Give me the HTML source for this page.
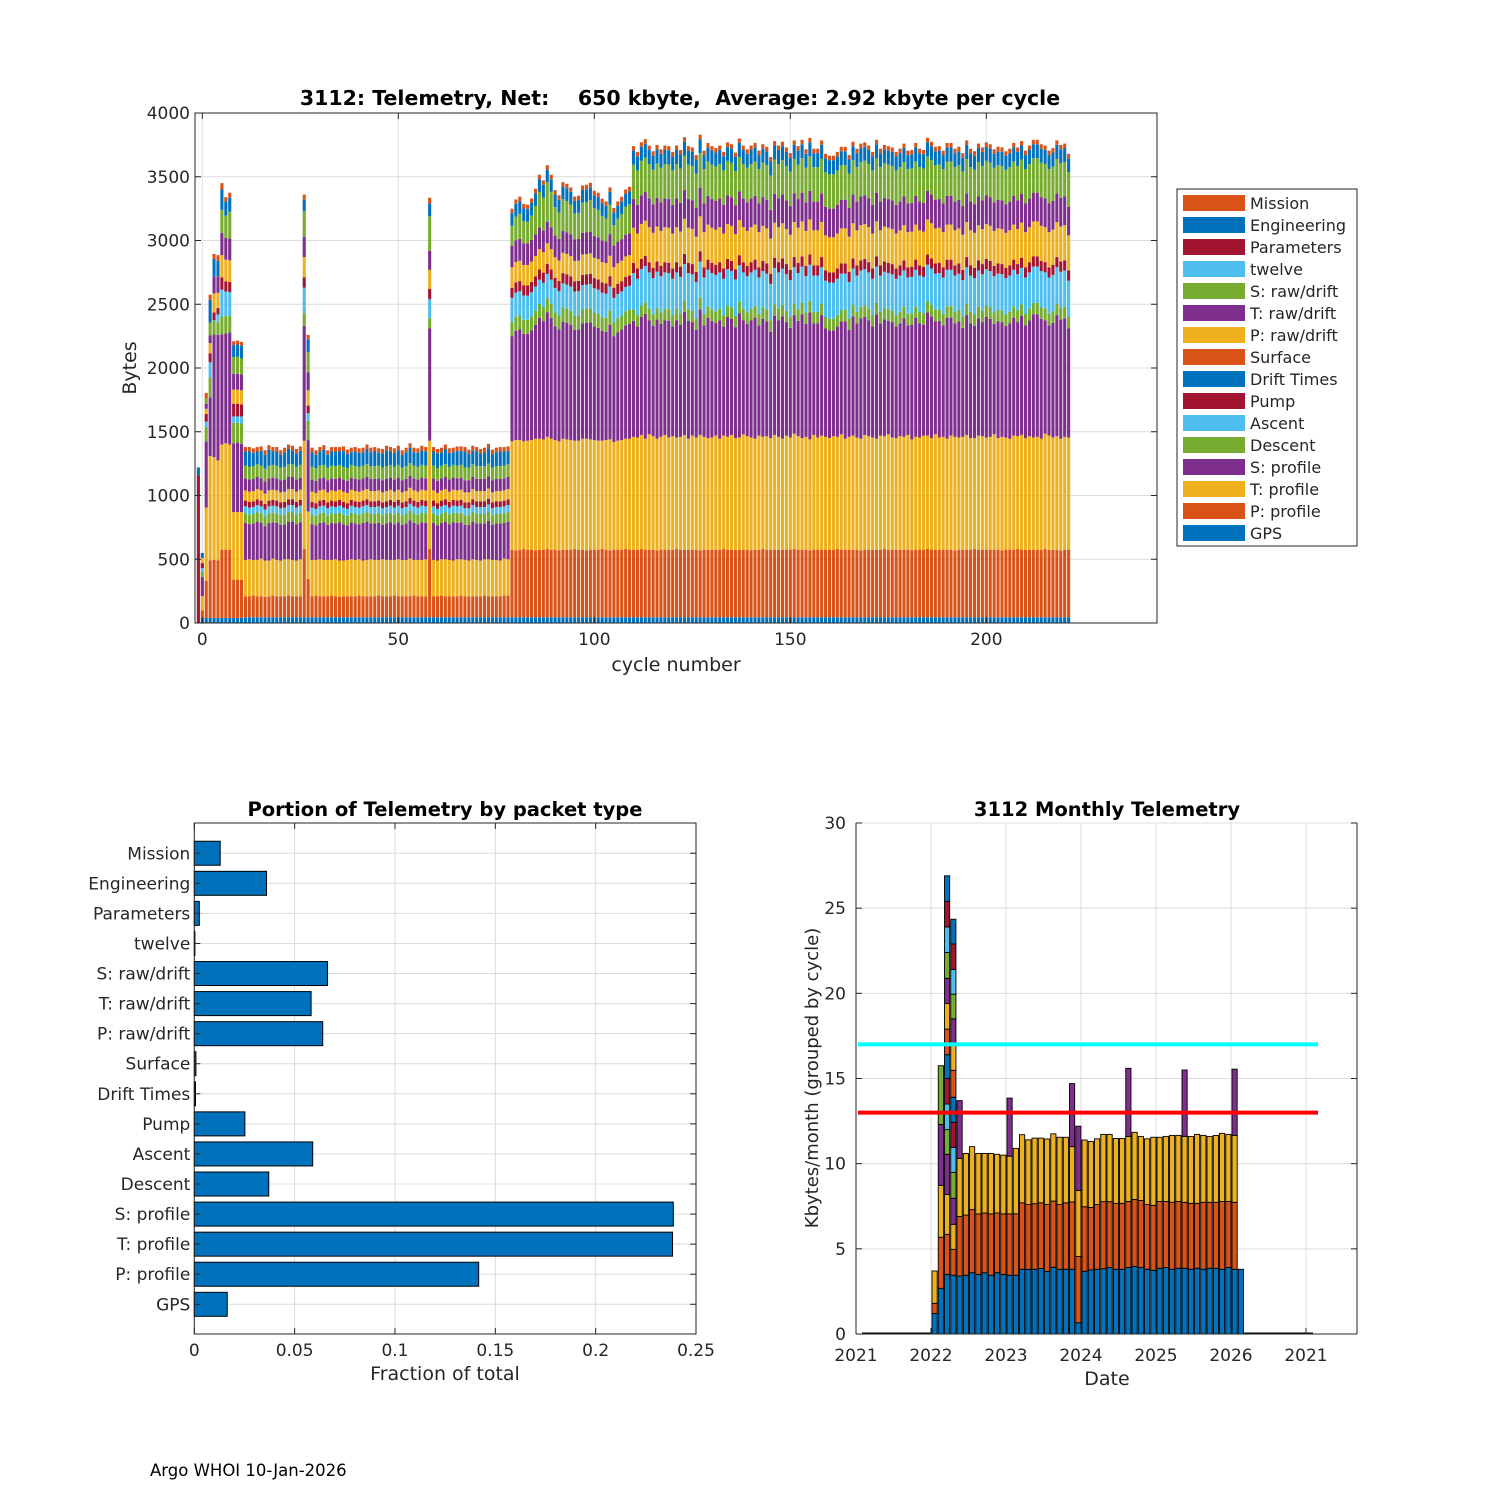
<!DOCTYPE html>
<html><head><meta charset="utf-8"><title>3112 Telemetry</title>
<style>
html,body{margin:0;padding:0;background:#fff;}
svg{display:block;font-family:"DejaVu Sans","Liberation Sans",sans-serif;}
</style></head>
<body>
<svg id="fig" width="1500" height="1500" viewBox="0 0 1500 1500" xmlns="http://www.w3.org/2000/svg">
<rect x="0" y="0" width="1500" height="1500" fill="#fff"/>
<g id="top"></g>
<g id="bl"></g>
<g id="br"></g>
<text x="150" y="1476" font-size="16.5" fill="#000">Argo WHOI 10-Jan-2026</text>
</svg>
<script>
// ---------------- top chart data (bytes per cycle, first cycle = -1) ----------------
const firstCycle = -1;
const seriesNames = ['GPS','P: profile','T: profile','S: profile','Descent','Ascent','Pump','Drift Times','Surface','P: raw/drift','T: raw/drift','S: raw/drift','twelve','Parameters','Engineering','Mission'];
const seriesColors = ['#0072BD','#D95319','#EDB120','#7E2F8E','#77AC30','#4DBEEE','#A2142F','#0072BD','#D95319','#EDB120','#7E2F8E','#77AC30','#4DBEEE','#A2142F','#0072BD','#D95319'];
const gps = [0,40,40,40,40,40,40,40,40,40,40,40,
45,45,45,45,45,45,45,45,45,45,45,45,45,45,45,45,45,45,45,45,
45,45,45,45,45,45,45,45,45,45,45,45,45,45,45,45,45,45,45,45,
45,45,45,45,45,45,45,45,45,45,45,45,45,45,45,45,45,45,45,45,
45,45,45,45,45,45,45,45,45,45,45,45,45,45,45,45,45,45,45,45,
45,45,45,45,45,45,45,45,45,45,45,45,45,45,45,45,45,45,45,45,
45,45,45,45,45,45,45,45,45,45,45,45,45,45,45,45,45,45,45,45,
45,45,45,45,45,45,45,45,45,45,45,45,45,45,45,45,45,45,45,45,
45,45,45,45,45,45,45,45,45,45,45,45,45,45,45,45,45,45,45,45,
45,45,45,45,45,45,45,45,45,45,45,45,45,45,45,45,45,45,45,45,
45,45,45,45,45,45,45,45,45,45,45,45,45,45,45,45,45,45,45,45,
45,45,45,45,45,45,45,45,45,45,45];
const pProfile = [0,60,290,450,455,450,535,535,535,300,300,300,
165,165,170,165,165,160,165,170,165,165,165,170,165,165,165,
535,300,
165,170,165,165,165,170,165,160,165,165,165,165,170,165,165,165,165,170,165,165,165,170,165,165,165,165,170,165,165,165,
535,
165,165,170,165,165,165,165,170,165,165,165,165,165,170,165,165,165,165,170,170,
530,525,530,535,530,530,525,530,530,535,530,530,525,530,530,530,535,530,530,525,530,530,530,535,530,525,530,530,530,535,530,
530,530,535,530,530,530,525,530,530,530,530,535,530,530,530,530,530,525,530,530,
530,530,530,535,530,530,530,530,530,530,525,530,530,535,530,530,530,530,530,530,
530,535,530,530,530,525,530,530,530,530,530,530,535,530,530,530,530,530,525,530,
530,530,530,530,535,530,530,530,530,530,530,525,530,530,530,535,530,530,530,530,
530,530,525,530,530,530,530,535,530,530,530,530,530,530,525,530,530,530,535,530,
530,530,530,530,530,535,530,530,530,525,530,530];
const tProfile = [0,110,575,820,805,785,825,835,825,530,530,530,
285,290,280,285,295,285,280,290,285,280,290,285,285,280,290,
850,530,
285,280,290,285,285,280,290,285,280,285,290,285,285,280,285,290,285,280,290,285,285,280,290,285,285,295,280,285,285,290,
850,
285,280,285,290,285,280,290,285,285,280,290,285,280,285,290,285,285,280,290,285,
850,865,860,845,855,860,875,870,865,880,870,860,855,870,865,860,850,855,870,875,865,860,855,850,860,870,845,855,860,865,870,
885,880,895,870,905,890,875,885,900,880,
890,875,885,900,870,895,880,905,885,875,
880,895,870,890,885,900,875,880,905,890,
885,870,895,880,890,875,900,885,870,895,
880,905,890,875,885,870,900,880,895,885,
875,890,880,905,870,885,895,880,875,900,
890,880,870,895,885,905,880,875,890,885,
900,870,885,880,895,890,875,905,880,885,
870,895,890,880,885,900,875,870,895,890,
880,885,905,875,890,880,870,895,885,900,
875,890,880,885,870,905,895,880,890,875,
885,880];
const sProfile = [0,150,520,460,965,985,865,860,880,540,545,535,
290,275,285,300,280,270,295,285,290,280,275,295,300,285,290,
900,560,
280,270,285,295,275,290,280,300,285,270,290,285,275,295,300,280,285,290,270,285,295,280,290,275,285,300,290,280,295,285,
880,
290,275,285,295,280,300,285,290,275,280,295,285,290,280,300,275,285,290,280,295,
825,856,867,843,838,860,893,948,928,978,948,893,877,919,915,903,870,873,906,908,919,890,885,861,848,900,830,851,866,890,900,
910,870,925,980,895,865,935,885,900,915,
860,920,880,965,925,890,845,985,875,945,
915,885,930,855,940,910,870,975,895,880,
920,950,865,925,900,835,935,915,960,890,
860,930,905,970,885,995,875,895,945,850,
845,830,865,885,920,840,935,895,945,925,
910,870,975,880,915,890,905,875,885,930,
860,900,935,895,870,965,955,885,915,875,
950,925,890,910,855,940,900,880,920,895,
945,925,865,915,900,875,905,925,895,935,
885,910,965,960,940,890,865,900,950,935,
930,855];
const descent = [0,40,110,155,110,100,135,140,125,160,155,160,
75,75,75,75,75,75,75,75,75,75,75,75,75,75,75,
100,150,
75,75,75,75,75,75,75,75,75,75,75,75,75,75,75,75,75,75,75,75,75,75,75,75,75,75,75,75,75,75,
80,
75,75,75,75,75,75,75,75,75,75,75,75,75,75,75,75,75,75,75,75,
110,110,110,110,110,110,110,110,110,110,110,110,110,110,110,110,110,110,110,110,110,110,110,110,110,110,110,110,110,110,110,
90,90,90,90,90,90,90,90,90,90,90,90,90,90,90,90,90,90,90,90,
90,90,90,90,90,90,90,90,90,90,90,90,90,90,90,90,90,90,90,90,
90,90,90,90,90,90,90,90,90,90,90,90,90,90,90,90,90,90,90,90,
90,90,90,90,90,90,90,90,90,90,90,90,90,90,90,90,90,90,90,90,
90,90,90,90,90,90,90,90,90,90,90,90,90,90,90,90,90,90,90,90,
90,90,90,90,90,90,90,90,90,90,90,90];
const ascent = [0,30,45,120,0,60,215,190,190,50,50,55,
55,55,55,55,55,55,55,55,55,55,55,55,55,55,55,
200,60,
55,55,55,55,55,55,55,55,55,55,55,55,55,55,55,55,55,55,55,55,55,55,55,55,55,55,55,55,55,55,
150,
55,55,55,55,55,55,55,55,55,55,55,55,55,55,55,55,55,55,55,55,
190,190,190,190,190,190,190,190,190,190,190,190,190,190,190,190,190,190,190,190,190,190,190,190,190,190,190,190,190,190,190,
285,285,285,285,285,285,285,285,285,285,285,285,285,285,285,285,285,285,285,285,
285,285,285,285,285,285,285,285,285,285,285,285,285,285,285,285,285,285,285,285,
285,285,285,285,285,285,285,285,285,285,285,285,285,285,285,285,285,285,285,285,
285,285,285,285,285,285,285,285,285,285,285,285,285,285,285,285,285,285,285,285,
285,285,285,285,285,285,285,285,285,285,285,285,285,285,285,285,285,285,285,285,
285,285,285,285,285,285,285,285,285,285,285,285];
const pump = [1160,40,60,70,60,50,95,80,80,100,100,95,
45,45,45,45,45,45,45,45,45,45,45,45,45,45,45,
80,60,
45,45,45,45,45,45,45,45,45,45,45,45,45,45,45,45,45,45,45,45,45,45,45,45,45,45,45,45,45,45,
80,
45,45,45,45,45,45,45,45,45,45,45,45,45,45,45,45,45,45,45,45,
80,80,80,80,80,80,80,80,80,80,80,80,80,80,80,80,80,80,80,80,80,80,80,80,80,80,80,80,80,80,80,
80,80,80,80,80,80,80,80,80,80,80,80,80,80,80,80,80,80,80,80,
80,80,80,80,80,80,80,80,80,80,80,80,80,80,80,80,80,80,80,80,
80,80,80,80,80,80,80,80,80,80,80,80,80,80,80,80,80,80,80,80,
80,80,80,80,80,80,80,80,80,80,80,80,80,80,80,80,80,80,80,80,
80,80,80,80,80,80,80,80,80,80,80,80,80,80,80,80,80,80,80,80,
80,80,80,80,80,80,80,80,80,80,80,80];
const driftTimes = [0,0,0,0,0,0,0,0,0,0,0,0,0,0,0,0,0,0,0,0,
0,0,0,0,0,0,0,0,0,0,0,0,0,0,0,0,0,0,0,0,0,0,0,0,0,0,0,0,0,0,0,0,0,0,0,0,0,0,0,0,
0,0,0,0,0,0,0,0,0,0,0,0,0,0,0,0,0,0,0,0,0,0,0,0,0,0,0,0,0,0,0,0,0,0,0,0,0,0,0,0,
0,0,0,0,0,0,0,0,0,0,0,0,0,0,0,0,0,0,0,0,0,0,0,0,0,0,0,0,0,0,0,0,0,0,0,0,0,0,0,0,
0,0,0,0,0,0,0,0,0,0,0,0,0,0,0,0,0,0,0,0,0,0,0,0,0,0,0,0,0,0,0,0,0,0,0,0,0,0,0,0,
0,0,0,0,0,0,0,0,0,0,0,0,0,0,0,0,0,0,0,0,0,0,0];
const surface = [0,0,0,0,0,0,0,0,0,0,0,0,0,0,0,0,0,0,0,0,
0,0,0,0,0,0,0,0,0,0,0,0,0,0,0,0,0,0,0,0,0,0,0,0,0,0,0,0,0,0,0,0,0,0,0,0,0,0,0,0,
0,0,0,0,0,0,0,0,0,0,0,0,0,0,0,0,0,0,0,0,0,0,0,0,0,0,0,0,0,0,0,0,0,0,0,0,0,0,0,0,
0,0,0,0,0,0,0,0,0,0,0,0,0,0,0,0,0,0,0,0,0,0,0,0,0,0,0,0,0,0,0,0,0,0,0,0,0,0,0,0,
0,0,0,0,0,0,0,0,0,0,0,0,0,0,0,0,0,0,0,0,0,0,0,0,0,0,0,0,0,0,0,0,0,0,0,0,0,0,0,0,
0,0,0,0,0,0,0,0,0,0,0,0,0,0,0,0,0,0,0,0,0,0,0];
const pRaw = [0,40,40,80,150,120,175,170,170,110,110,110,
80,80,80,80,80,80,80,80,80,80,80,80,80,80,80,
160,120,
80,80,80,80,80,80,80,80,80,80,80,80,80,80,80,80,80,80,80,80,80,80,80,80,80,80,80,80,80,80,
150,
80,80,80,80,80,80,80,80,80,80,80,80,80,80,80,80,80,80,80,80,
160,160,160,160,160,160,160,160,160,160,160,160,160,160,160,160,160,160,160,160,160,160,160,160,160,160,160,160,160,160,160,
275,275,275,275,275,275,275,275,275,275,275,275,275,275,275,275,275,275,275,275,
275,275,275,275,275,275,275,275,275,275,275,275,275,275,275,275,275,275,275,275,
275,275,275,275,275,275,275,275,275,275,275,275,275,275,275,275,275,275,275,275,
275,275,275,275,275,275,275,275,275,275,275,275,275,275,275,275,275,275,275,275,
275,275,275,275,275,275,275,275,275,275,275,275,275,275,275,275,275,275,275,275,
275,275,275,275,275,275,275,275,275,275,275,275];
const tRaw = [0,0,40,60,130,130,175,170,170,125,125,125,
95,95,95,95,95,95,95,95,95,95,95,95,95,95,95,
160,140,
95,95,95,95,95,95,95,95,95,95,95,95,95,95,95,95,95,95,95,95,95,95,95,95,95,95,95,95,95,95,
150,
95,95,95,95,95,95,95,95,95,95,95,95,95,95,95,95,95,95,95,95,
170,170,170,170,170,170,170,170,170,170,170,170,170,170,170,170,170,170,170,170,170,170,170,170,170,170,170,170,170,170,170,
225,225,225,225,225,225,225,225,225,225,225,225,225,225,225,225,225,225,225,225,
225,225,225,225,225,225,225,225,225,225,225,225,225,225,225,225,225,225,225,225,
225,225,225,225,225,225,225,225,225,225,225,225,225,225,225,225,225,225,225,225,
225,225,225,225,225,225,225,225,225,225,225,225,225,225,225,225,225,225,225,225,
225,225,225,225,225,225,225,225,225,225,225,225,225,225,225,225,225,225,225,225,
225,225,225,225,225,225,225,225,225,225,225,225];
const sRaw = [0,0,40,100,0,0,180,175,210,130,135,125,
100,100,100,100,100,100,100,100,100,100,100,100,100,100,100,
200,160,
100,100,100,100,100,100,100,100,100,100,100,100,100,100,100,100,100,100,100,100,100,100,100,100,100,100,100,100,100,100,
270,
100,100,100,100,100,100,100,100,100,100,100,100,100,100,100,100,100,100,100,100,
155,186,197,174,168,190,223,278,259,308,278,223,208,249,245,233,200,204,236,239,249,220,215,192,179,231,160,181,197,220,231,
270,270,270,270,270,270,270,270,270,270,270,270,270,270,270,270,270,270,270,270,
270,270,270,270,270,270,270,270,270,270,270,270,270,270,270,270,270,270,270,270,
270,270,270,270,270,270,270,270,270,270,270,270,270,270,270,270,270,270,270,270,
270,270,270,270,270,270,270,270,270,270,270,270,270,270,270,270,270,270,270,270,
270,270,270,270,270,270,270,270,270,270,270,270,270,270,270,270,270,270,270,270,
270,270,270,270,270,270,270,270,270,270,270,270];
const twelve = [0,0,0,0,0,0,0,0,0,0,0,0,0,0,0,0,0,0,0,0,
0,0,0,0,0,0,0,0,0,0,0,0,0,0,0,0,0,0,0,0,0,0,0,0,0,0,0,0,0,0,0,0,0,0,0,0,0,0,0,0,
0,0,0,0,0,0,0,0,0,0,0,0,0,0,0,0,0,0,0,0,0,0,0,0,0,0,0,0,0,0,0,0,0,0,0,0,0,0,0,0,
0,0,0,0,0,0,0,0,0,0,0,0,0,0,0,0,0,0,0,0,0,0,0,0,0,0,0,0,0,0,0,0,0,0,0,0,0,0,0,0,
0,0,0,0,0,0,0,0,0,0,0,0,0,0,0,0,0,0,0,0,0,0,0,0,0,0,0,0,0,0,0,0,0,0,0,0,0,0,0,0,
0,0,0,0,0,0,0,0,0,0,0,0,0,0,0,0,0,0,0,0,0,0,0];
const parameters = [0,0,0,0,0,0,0,0,0,0,0,0,0,0,0,0,0,0,0,0,
0,0,0,0,0,0,0,0,0,0,0,0,0,0,0,0,0,0,0,0,0,0,0,0,0,0,0,0,0,0,0,0,0,0,0,0,0,0,0,0,
0,0,0,0,0,0,0,0,0,0,0,0,0,0,0,0,0,0,0,0,0,0,0,0,0,0,0,0,0,0,0,0,0,0,0,0,0,0,0,0,
0,0,0,0,0,0,0,0,0,0,0,0,0,0,0,0,0,0,0,0,0,0,0,0,0,0,0,0,0,0,0,0,0,0,0,0,0,0,0,0,
0,0,0,0,0,0,0,0,0,0,0,0,0,0,0,0,0,0,0,0,0,0,0,0,0,0,0,0,0,0,0,0,0,0,0,0,0,0,0,0,
0,0,0,0,0,0,0,0,0,0,0,0,0,0,0,0,0,0,0,0,0,0,0];
const engineering = [60,40,0,180,140,120,160,110,110,95,95,100,
110,120,105,100,115,110,125,105,110,100,115,120,110,105,110,
90,100,
115,105,110,120,100,110,115,105,125,110,100,115,110,105,120,110,115,100,110,125,105,110,115,100,110,120,105,110,115,110,
100,
110,115,105,120,110,100,115,110,125,105,110,115,100,110,120,105,110,115,110,105,
100,100,100,100,100,100,100,100,100,100,100,100,100,100,100,100,100,100,100,100,100,100,100,100,100,100,100,100,100,100,100,
110,110,110,110,110,110,110,110,110,110,110,110,110,110,110,110,110,110,110,110,
110,110,110,110,110,110,110,110,110,110,110,110,110,110,110,110,110,110,110,110,
110,110,110,110,110,110,110,110,110,110,110,110,110,110,110,110,110,110,110,110,
110,110,110,110,110,110,110,110,110,110,110,110,110,110,110,110,110,110,110,110,
110,110,110,110,110,110,110,110,110,110,110,110,110,110,110,110,110,110,110,110,
110,110,110,110,110,110,110,110,110,110,110,110];
const mission = [0,0,45,40,40,45,50,35,40,30,30,30,
35,35,35,35,35,35,35,35,35,35,35,35,35,35,35,
40,35,
35,35,35,35,35,35,35,35,35,35,35,35,35,35,35,35,35,35,35,35,35,35,35,35,35,35,35,35,35,35,
45,
35,35,35,35,35,35,35,35,35,35,35,35,35,35,35,35,35,35,35,35,
35,35,35,35,35,35,35,35,35,35,35,35,35,35,35,35,35,35,35,35,35,35,35,35,35,35,35,35,35,35,35,
35,35,35,35,35,35,35,35,35,35,35,35,35,35,35,35,35,35,35,35,
35,35,35,35,35,35,35,35,35,35,35,35,35,35,35,35,35,35,35,35,
35,35,35,35,35,35,35,35,35,35,35,35,35,35,35,35,35,35,35,35,
35,35,35,35,35,35,35,35,35,35,35,35,35,35,35,35,35,35,35,35,
35,35,35,35,35,35,35,35,35,35,35,35,35,35,35,35,35,35,35,35,
35,35,35,35,35,35,35,35,35,35,35,35];
const yTicksTop = [0,500,1000,1500,2000,2500,3000,3500,4000];
const xTicksTop = [0,50,100,150,200];

// ---------------- bottom-left data ----------------
const packetTypes = ['GPS','P: profile','T: profile','S: profile','Descent','Ascent','Pump','Drift Times','Surface','P: raw/drift','T: raw/drift','S: raw/drift','twelve','Parameters','Engineering','Mission'];
const fractions = [0.0164,0.1417,0.2383,0.2387,0.0371,0.059,0.0252,0.0006,0.0008,0.064,0.0582,0.0664,0.0003,0.0025,0.036,0.0129];
const fracTicks = [0,0.05,0.1,0.15,0.2,0.25];
const fracTickLabels = ['0','0.05','0.1','0.15','0.2','0.25'];

// ---------------- bottom-right data (kbytes per cycle, grouped by month from Jan 2022) ----------------
const monthStartYear = 2022;
const monthlyCycles = [
[1.2,0.6,1.9],[2.68,3.0,3.05,3.57,3.45],
[3.5,2.35,2.35,2.35,1.45,1.5,1.5,1.4,1.5,1.5,1.48,1.52,1.5,1.5,1.5],
[3.45,1.52,1.47,1.53,1.52,1.47,1.47,1.47,1.58,1.45,1.57,1.45,1.45,1.5,1.45],
[3.4,3.5,3.4,3.4],[3.45,3.53,3.62],[3.6,3.7,3.7],[3.5,3.55,3.55],[3.6,3.5,3.5],[3.45,3.6,3.55],[3.6,3.5,3.45],[3.5,3.55,3.45],
[3.45,3.6,3.39,3.41],[3.45,3.6,3.85],[3.8,3.9,4.0],[3.8,3.8,3.8],[3.8,3.85,3.85],[3.85,3.85,3.8],[3.68,3.92,3.85],[3.92,3.88,3.95],[3.8,3.8,3.95],[3.8,3.9,3.85],[3.8,3.95,3.25,3.7],[0.66,3.89,3.88,3.77],
[3.68,3.79,3.92],[3.76,3.67,3.87],[3.8,3.8,3.86],[3.83,3.94,3.95],[3.9,3.87,3.95],[3.8,3.87,3.81],[3.8,3.87,3.81],[3.9,3.88,3.82,4.0],[3.97,3.93,3.94],[3.9,3.94,3.76],[3.8,3.8,3.86],[3.74,3.81,4.0],
[3.86,3.92,3.77],[3.9,3.88,3.82],[3.8,3.93,3.93],[3.86,3.92,3.88],[3.86,3.87,3.87,3.9],[3.8,3.87,3.93],[3.86,3.81,4.05],[3.8,3.93,3.93],[3.86,3.87,3.87],[3.86,3.87,3.93],[3.8,3.98,4.0],[3.9,3.88,3.94],
[3.8,3.93,3.93,3.89],[3.8]
];
const cycleColors = ['#0072BD','#D95319','#EDB120','#7E2F8E','#77AC30','#4DBEEE','#A2142F'];
const monthYTicks = [0,5,10,15,20,25,30];
const yearTickLabels = ['2021','2022','2023','2024','2025','2026','2021'];
const cyanLevel = 17;
const redLevel = 13;

// ---------------- drawing ----------------
const NS = 'http://www.w3.org/2000/svg';
function el(parent, tag, attrs, text){
  const e = document.createElementNS(NS, tag);
  for (const k in attrs) e.setAttribute(k, attrs[k]);
  if (text !== undefined) e.textContent = text;
  parent.appendChild(e);
  return e;
}
const GRID = '#dcdcdc', AX = '#262626', TXT = '#262626';

// ===== TOP =====
(function(){
  const g = document.getElementById('top');
  const L=195, R=1157, T=113, B=623;
  const xC = c => 202.3 + 3.92*c;
  const yB = v => B - v*(B-T)/4000;
  yTicksTop.forEach(v=>{
    const ln = el(g,'line',{x1:L,x2:R,y1:yB(v),y2:yB(v),stroke:GRID,'stroke-width':1});
    
    
  });
  xTicksTop.forEach(v=>{
    const ln = el(g,'line',{x1:xC(v),x2:xC(v),y1:T,y2:B,stroke:GRID,'stroke-width':1});
    
    
  });
  const series = [gps,pProfile,tProfile,sProfile,descent,ascent,pump,driftTimes,surface,pRaw,tRaw,sRaw,twelve,parameters,engineering,mission];
  const n = gps.length;
  for (let i=0;i<n;i++){
    const c = firstCycle + i;
    let acc = 0;
    for (let s=0;s<series.length;s++){
      const v = series[s][i] || 0;
      if (v<=0) continue;
      const y0 = yB(acc), y1 = yB(acc+v);
      const r = el(g,'rect',{x:(xC(c)-1.55).toFixed(2),y:y1.toFixed(2),width:3.1,height:(y0-y1).toFixed(2),fill:seriesColors[s]});
      
      
      acc += v;
    }
  }
  const box = el(g,'rect',{x:L,y:T,width:R-L,height:B-T,fill:'none',stroke:AX,'stroke-width':1});
  
  
  yTicksTop.forEach(v=>{
    const t1 = el(g,'line',{x1:L,x2:L+6,y1:yB(v),y2:yB(v),stroke:AX});
    
    
    const t2 = el(g,'line',{x1:R-6,x2:R,y1:yB(v),y2:yB(v),stroke:AX});
    
    
    const lb = el(g,'text',{x:L-5,y:yB(v)+6,'text-anchor':'end','font-size':17,fill:TXT},String(v));
    
    
  });
  xTicksTop.forEach(v=>{
    const t1 = el(g,'line',{x1:xC(v),x2:xC(v),y1:B,y2:B-6,stroke:AX});
    
    
    const t2 = el(g,'line',{x1:xC(v),x2:xC(v),y1:T,y2:T+6,stroke:AX});
    
    
    const lb = el(g,'text',{x:xC(v),y:B+22,'text-anchor':'middle','font-size':17,fill:TXT},String(v));
    
    
  });
  const tt = el(g,'text',{x:680,y:105,'text-anchor':'middle','font-size':20.5,'font-weight':'bold',fill:'#000','xml:space':'preserve',style:'white-space:pre'},'3112: Telemetry, Net:    650 kbyte,  Average: 2.92 kbyte per cycle');
  
  
  const xl = el(g,'text',{x:676,y:671,'text-anchor':'middle','font-size':19,fill:TXT},'cycle number');
  
  
  const yl = el(g,'text',{x:0,y:0,'text-anchor':'middle','font-size':19,fill:TXT,transform:'translate(136,368) rotate(-90)'},'Bytes');
  
  
  const lg = el(g,'g',{});
  
  
  const lbox = el(lg,'rect',{x:1177,y:189,width:180,height:357,fill:'#fff',stroke:AX,'stroke-width':1});
  
  
  for (let k=0;k<16;k++){
    const s = 15-k;
    const cy = 203 + 22*k;
    const sw = el(lg,'rect',{x:1183,y:cy-8,width:62,height:16,fill:seriesColors[s]});
    
    
    const tx = el(lg,'text',{x:1250,y:cy+6,'font-size':16,fill:TXT},seriesNames[s]);
    
    
  }
})();

// ===== BOTTOM LEFT =====
(function(){
  const g = document.getElementById('bl');
  const L=194.3, R=696, T=823, B=1334;
  const xF = v => L + v*(R-L)/0.25;
  const yK = k => 1304.3 - k*30.07;
  fracTicks.forEach(v=>{
    const ln = el(g,'line',{x1:xF(v),x2:xF(v),y1:T,y2:B,stroke:GRID});
    
    
  });
  packetTypes.forEach((p,k)=>{
    const ln = el(g,'line',{x1:L,x2:R,y1:yK(k),y2:yK(k),stroke:GRID});
    
    
  });
  packetTypes.forEach((p,k)=>{
    const w = Math.max(xF(fractions[k])-L, 0.5);
    const r = el(g,'rect',{x:L,y:yK(k)-12,width:w,height:24,fill:'#0072BD',stroke:'#000','stroke-width':1});
    
    
    const tk = el(g,'line',{x1:L,x2:L+6,y1:yK(k),y2:yK(k),stroke:AX});
    
    
    const tk2 = el(g,'line',{x1:R-6,x2:R,y1:yK(k),y2:yK(k),stroke:AX});
    
    
    const lb = el(g,'text',{x:L-4,y:yK(k)+6,'text-anchor':'end','font-size':17,fill:TXT},p);
    
    
  });
  const box = el(g,'rect',{x:L,y:T,width:R-L,height:B-T,fill:'none',stroke:AX});
  
  
  fracTicks.forEach((v,i)=>{
    const t1 = el(g,'line',{x1:xF(v),x2:xF(v),y1:B,y2:B-6,stroke:AX});
    
    
    const t2 = el(g,'line',{x1:xF(v),x2:xF(v),y1:T,y2:T+6,stroke:AX});
    
    
    const lb = el(g,'text',{x:xF(v),y:B+22,'text-anchor':'middle','font-size':17,fill:TXT},fracTickLabels[i]);
    
    
  });
  const tt = el(g,'text',{x:445,y:816,'text-anchor':'middle','font-size':19.5,'font-weight':'bold',fill:'#000'},'Portion of Telemetry by packet type');
  
  
  const xl = el(g,'text',{x:445,y:1380,'text-anchor':'middle','font-size':19,fill:TXT},'Fraction of total');
  
  
})();

// ===== BOTTOM RIGHT =====
(function(){
  const g = document.getElementById('br');
  const L=856, R=1357, T=823, B=1334;
  const yV = v => B - v*(B-T)/30;
  const xYear = k => 856 + 75*k;
  const xMonth = m => 932 + m*6.25;
  monthYTicks.forEach(v=>{
    const ln = el(g,'line',{x1:L,x2:R,y1:yV(v),y2:yV(v),stroke:GRID});
    
    
  });
  yearTickLabels.forEach((t,k)=>{
    const ln = el(g,'line',{x1:xYear(k),x2:xYear(k),y1:T,y2:B,stroke:GRID});
    
    
  });
  const z1 = el(g,'line',{x1:862,x2:931,y1:B-0.5,y2:B-0.5,stroke:'#000','stroke-width':2});
  
  
  const z2 = el(g,'line',{x1:1244,x2:1313,y1:B-0.5,y2:B-0.5,stroke:'#000','stroke-width':2});
  
  
  monthlyCycles.forEach((cyc,m)=>{
    let acc = 0;
    cyc.forEach((v,j)=>{
      const y0 = yV(acc), y1 = yV(acc+v);
      const r = el(g,'rect',{x:xMonth(m).toFixed(2),y:y1.toFixed(2),width:5.2,height:(y0-y1).toFixed(2),fill:cycleColors[j%7],stroke:'#000','stroke-width':0.9});
      
      
      acc += v;
    });
  });
  const cy = el(g,'line',{x1:858,x2:1318,y1:yV(cyanLevel),y2:yV(cyanLevel),stroke:'#00FFFF','stroke-width':4});
  
  
  const rd = el(g,'line',{x1:858,x2:1318,y1:yV(redLevel),y2:yV(redLevel),stroke:'#FF0000','stroke-width':4});
  
  
  const ax1 = el(g,'line',{x1:L,x2:L,y1:T,y2:B,stroke:AX});
  
  
  const ax2 = el(g,'line',{x1:R,x2:R,y1:T,y2:B,stroke:AX});
  
  
  const ax3 = el(g,'line',{x1:L,x2:R,y1:B,y2:B,stroke:AX});
  
  
  monthYTicks.forEach(v=>{
    const t1 = el(g,'line',{x1:L,x2:L+6,y1:yV(v),y2:yV(v),stroke:AX});
    
    
    const t2 = el(g,'line',{x1:R-6,x2:R,y1:yV(v),y2:yV(v),stroke:AX});
    
    
    const lb = el(g,'text',{x:L-10,y:yV(v)+6,'text-anchor':'end','font-size':17,fill:TXT},String(v));
    
    
  });
  yearTickLabels.forEach((t,k)=>{
    const t1 = el(g,'line',{x1:xYear(k),x2:xYear(k),y1:B,y2:B-6,stroke:AX});
    
    
    const lb = el(g,'text',{x:xYear(k),y:B+27,'text-anchor':'middle','font-size':17,fill:TXT},t);
    
    
  });
  const tt = el(g,'text',{x:1107,y:816,'text-anchor':'middle','font-size':19.5,'font-weight':'bold',fill:'#000'},'3112 Monthly Telemetry');
  
  
  const xl = el(g,'text',{x:1107,y:1385,'text-anchor':'middle','font-size':19,fill:TXT},'Date');
  
  
  const yl = el(g,'text',{x:0,y:0,'text-anchor':'middle','font-size':18,fill:TXT,transform:'translate(818,1078) rotate(-90)'},'Kbytes/month (grouped by cycle)');
  
  
})();
</script>
</body></html>
